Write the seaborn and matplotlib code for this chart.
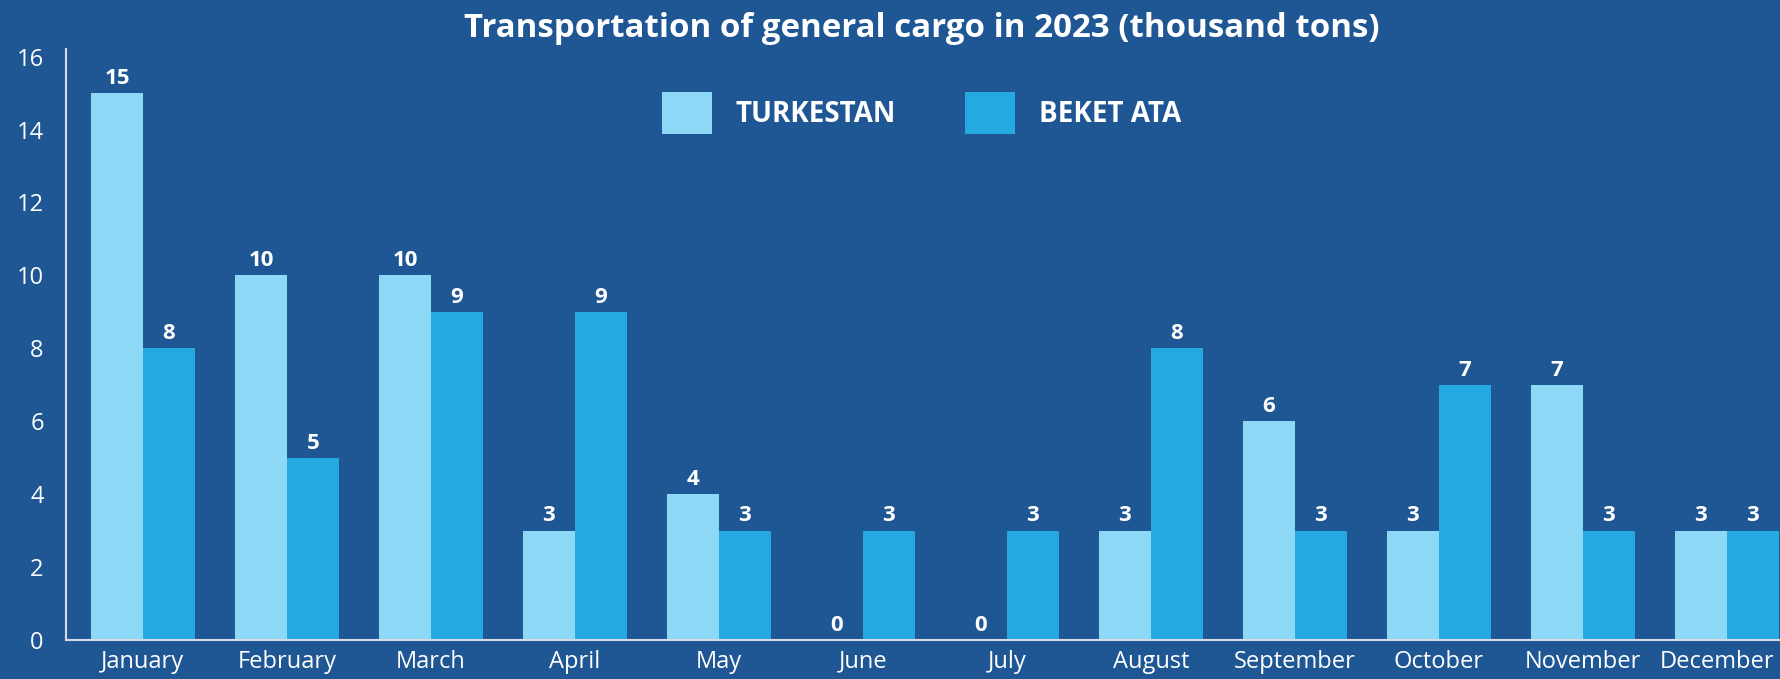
import pandas as pd
import matplotlib.pyplot as plt
import matplotlib.transforms as mtransforms
import seaborn as sns

months = ['January', 'February', 'March', 'April', 'May', 'June', 'July',
          'August', 'September', 'October', 'November', 'December']
turkestan = [15, 10, 10, 3, 4, 0, 0, 3, 6, 3, 7, 3]
beket_ata = [8, 5, 9, 9, 3, 3, 3, 8, 3, 7, 3, 3]
series = ['TURKESTAN', 'BEKET ATA']
y_ticks = [0, 2, 4, 6, 8, 10, 12, 14, 16]

bg = '#1E5794'
colors = ['#8ED8F7', '#24A9E1']

df = pd.DataFrame({
    'month': months * 2,
    'value': turkestan + beket_ata,
    'station': [series[0]] * len(months) + [series[1]] * len(months),
})

sns.set_style('white')
plt.rcParams['font.family'] = ['Open Sans', 'DejaVu Sans']

fig = plt.figure(figsize=(17.8, 6.79), dpi=100, facecolor=bg)
ax = fig.add_axes([0.037, 0.0574, 0.963, 0.870])
ax.set_facecolor(bg)

sns.barplot(data=df, x='month', y='value', hue='station', palette=colors,
            width=0.72, gap=0, saturation=1, linewidth=0, ax=ax, legend=True)

for c in ax.containers:
    ax.bar_label(c, fmt='%d', padding=3, color='white', fontsize=16,
                 fontweight='bold')

ax.set_ylim(0, 16.2)
ax.set_xlim(-0.535, 11.37)
ax.set_yticks(y_ticks)
ax.tick_params(axis='both', length=0, colors='white', labelsize=17)
ax.tick_params(axis='y', pad=16)
ax.tick_params(axis='x', pad=7)
ax.set_xlabel('')
ax.set_ylabel('')
for s in ['top', 'right']:
    ax.spines[s].set_visible(False)
for s in ['left', 'bottom']:
    ax.spines[s].set_color('#D5DCE6')
    ax.spines[s].set_linewidth(1.5)

# keep the last month label inside the figure edge
last = ax.get_xticklabels()[-1]
last.set_transform(last.get_transform() +
                   mtransforms.ScaledTranslation(-0.1, 0, fig.dpi_scale_trans))

leg = ax.legend(loc='center', bbox_to_anchor=(0.499, 0.892), ncol=2,
                frameon=False, prop={'size': 20, 'weight': 'bold'},
                handlelength=1.8, handleheight=1.95, handletextpad=0.85,
                columnspacing=2.5)
for t in leg.get_texts():
    t.set_color('white')

fig.text(0.518, 0.958, 'Transportation of general cargo in 2023 (thousand tons)',
         ha='center', va='center', color='white', fontsize=23.8,
         fontweight='bold')

fig.savefig('out.png', dpi=100, facecolor=bg)
